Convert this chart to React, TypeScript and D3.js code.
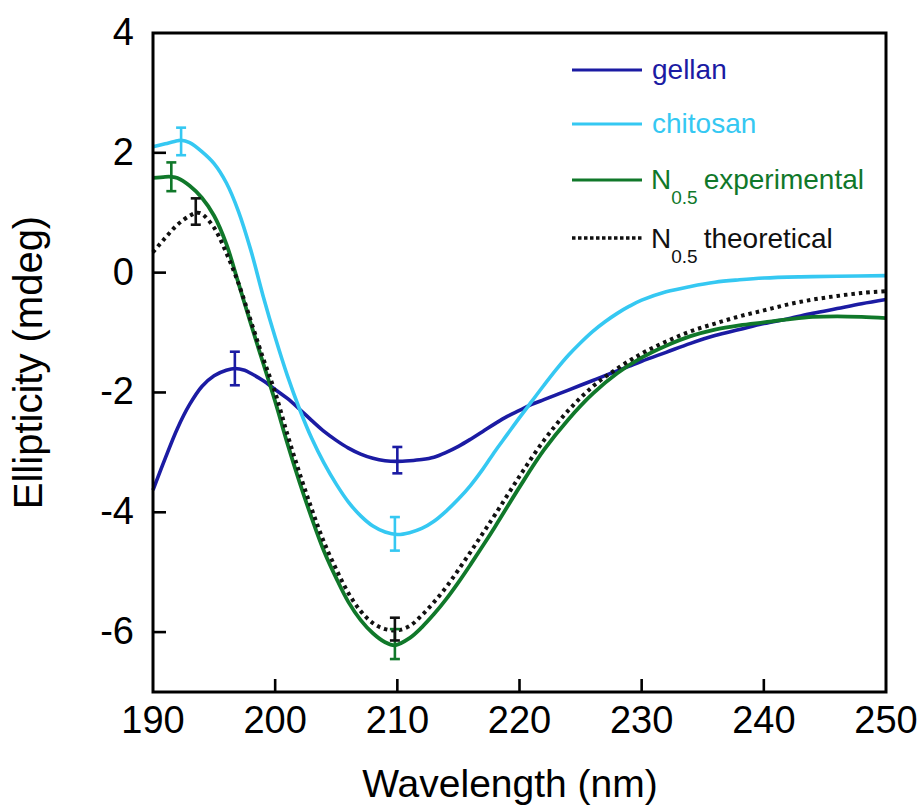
import React from "react";
import * as d3 from "d3";

const xTicks = [190, 200, 210, 220, 230, 240, 250];
const yTicks = [4, 2, 0, -2, -4, -6];

const gellanX = [190, 191, 192, 193, 194, 195, 196, 196.7, 197.5, 198, 199, 200, 201, 202, 203, 204, 205, 206, 207, 208, 209, 210, 211, 212, 213, 214, 215, 216, 217, 218, 219, 220, 221, 222, 223, 224, 225, 226, 227, 228, 229, 230, 232, 234, 236, 238, 240, 242, 244, 246, 248, 250];
const gellanY = [-3.63, -3.1, -2.6, -2.2, -1.9, -1.72, -1.63, -1.6, -1.63, -1.68, -1.8, -1.95, -2.1, -2.28, -2.47, -2.65, -2.8, -2.93, -3.03, -3.1, -3.14, -3.15, -3.14, -3.12, -3.08, -3.0, -2.9, -2.78, -2.65, -2.52, -2.4, -2.3, -2.2, -2.12, -2.04, -1.96, -1.88, -1.8, -1.72, -1.64, -1.56, -1.48, -1.33, -1.18, -1.05, -0.95, -0.85, -0.77, -0.68, -0.6, -0.52, -0.45];

const chitosanX = [190, 191, 192, 192.3, 193, 194, 195, 196, 197, 198, 199, 200, 201, 202, 203, 204, 205, 206, 207, 208, 209, 210, 211, 212, 213, 214, 215, 216, 217, 218, 219, 220, 221, 222, 223, 224, 225, 226, 227, 228, 229, 230, 232, 234, 236, 238, 240, 243, 246, 250];
const chitosanY = [2.1, 2.15, 2.2, 2.21, 2.17, 2.02, 1.82, 1.5, 1.02, 0.38, -0.38, -1.08, -1.72, -2.28, -2.77, -3.18, -3.53, -3.83, -4.06, -4.23, -4.33, -4.37, -4.34, -4.27, -4.15, -3.98, -3.78, -3.55, -3.28, -2.98, -2.7, -2.42, -2.15, -1.88, -1.62, -1.38, -1.17, -0.98, -0.82, -0.68, -0.56, -0.46, -0.32, -0.23, -0.16, -0.12, -0.09, -0.07, -0.06, -0.05];

const expX = [190, 191, 191.5, 192, 193, 194, 195, 196, 197, 198, 199, 200, 201, 202, 203, 204, 205, 206, 207, 208, 209, 209.8, 211, 212, 213, 214, 215, 216, 217, 218, 220, 222, 224, 226, 228, 230, 232, 234, 236, 238, 240, 242, 244, 246, 248, 250];
const expY = [1.58, 1.6, 1.6, 1.58, 1.45, 1.25, 0.95, 0.48, -0.18, -0.85, -1.5, -2.15, -2.85, -3.5, -4.1, -4.65, -5.1, -5.5, -5.8, -6.02, -6.17, -6.22, -6.1, -5.92, -5.7, -5.45, -5.17, -4.87, -4.56, -4.24, -3.58, -2.96, -2.45, -2.02, -1.68, -1.42, -1.22, -1.06, -0.95, -0.88, -0.83, -0.78, -0.74, -0.73, -0.74, -0.76];

const theoX = [190, 191, 192, 193, 193.6, 194, 195, 196, 197, 198, 199, 200, 201, 202, 203, 204, 205, 206, 207, 208, 209, 210, 211, 212, 213, 214, 215, 216, 217, 218, 220, 222, 224, 226, 228, 230, 232, 234, 236, 238, 240, 242, 244, 246, 248, 250];
const theoY = [0.34, 0.58, 0.8, 0.95, 1.0, 0.98, 0.75, 0.33, -0.18, -0.8, -1.42, -2.0, -2.7, -3.35, -3.95, -4.5, -4.95, -5.35, -5.65, -5.85, -5.95, -5.97, -5.9, -5.72, -5.5, -5.25, -4.96, -4.66, -4.35, -4.04, -3.4, -2.8, -2.3, -1.9, -1.6, -1.35, -1.15, -0.98, -0.85, -0.73, -0.63, -0.53, -0.45, -0.39, -0.34, -0.31];

// error bars: [x, center, half-width]
const gellanErr = [[196.7, -1.6, 0.28], [210, -3.13, 0.22]];
const chitosanErr = [[192.3, 2.19, 0.23], [209.8, -4.36, 0.28]];
const expErr = [[191.5, 1.6, 0.24], [209.8, -6.2, 0.25]];
const theoErr = [[193.5, 1.02, 0.22], [209.8, -5.95, 0.19]];

const GELLAN = "#1b1ba3";
const CHITOSAN = "#35c8f2";
const GREEN = "#10782a";
const BLACK = "#111111";

const FONT = "'Liberation Sans', Arial, sans-serif";

export default function App() {
  const W = 922, H = 807;
  const left = 153, right = 886, top = 33, bottom = 692;
  const x = d3.scaleLinear().domain([190, 250]).range([left, right]);
  const y = d3.scaleLinear().domain([-7, 4]).range([bottom, top]);

  const path = (xs: number[], ys: number[]) =>
    d3
      .line<number>()
      .x((_, i) => x(xs[i]))
      .y((_, i) => y(ys[i]))
      .curve(d3.curveCatmullRom.alpha(0.5))(xs) as string;

  const errBars = (errs: number[][], color: string) =>
    errs.map(([wx, c, h], i) => (
      <g key={i} stroke={color} strokeWidth={2.6} fill="none">
        <line x1={x(wx)} x2={x(wx)} y1={y(c + h)} y2={y(c - h)} />
        <line x1={x(wx) - 5} x2={x(wx) + 5} y1={y(c + h)} y2={y(c + h)} />
        <line x1={x(wx) - 5} x2={x(wx) + 5} y1={y(c - h)} y2={y(c - h)} />
      </g>
    ));

  const legendItems = [
    { label: "gellan", sub: "", color: GELLAN, dash: false, ly: 70, ty: 79 },
    { label: "chitosan", sub: "", color: CHITOSAN, dash: false, ly: 124, ty: 133 },
    { label: "experimental", sub: "0.5", color: GREEN, dash: false, ly: 180, ty: 189 },
    { label: "theoretical", sub: "0.5", color: BLACK, dash: true, ly: 238, ty: 248 },
  ];

  return (
    <>
      <style>{`body{margin:0;background:#fff}`}</style>
      <svg width={W} height={H} style={{ display: "block" }} fontFamily={FONT}>
        <rect width={W} height={H} fill="#fff" />
        {/* curves */}
        <path d={path(gellanX, gellanY)} fill="none" stroke={GELLAN} strokeWidth={3.6} />
        <path d={path(chitosanX, chitosanY)} fill="none" stroke={CHITOSAN} strokeWidth={3.6} />
        <path d={path(expX, expY)} fill="none" stroke={GREEN} strokeWidth={3.8} />
        <path d={path(theoX, theoY)} fill="none" stroke={BLACK} strokeWidth={4} strokeDasharray="3.5 4" />
        {errBars(gellanErr, GELLAN)}
        {errBars(chitosanErr, CHITOSAN)}
        {errBars(expErr, GREEN)}
        {errBars(theoErr, BLACK)}

        {/* frame */}
        <rect x={left} y={top} width={right - left} height={bottom - top} fill="none" stroke="#000" strokeWidth={3} />
        {/* x ticks */}
        {xTicks.map((t) => (
          <g key={t}>
            {t > 190 && t < 250 && (
              <line x1={x(t)} x2={x(t)} y1={bottom} y2={bottom - 13} stroke="#000" strokeWidth={2.6} />
            )}
            <text x={x(t)} y={bottom + 41} fontSize={38} textAnchor="middle" fill="#000">
              {t}
            </text>
          </g>
        ))}
        {/* y ticks */}
        {yTicks.map((t) => (
          <g key={t}>
            {t < 4 && (
              <line x1={left} x2={left + 13} y1={y(t)} y2={y(t)} stroke="#000" strokeWidth={2.6} />
            )}
            <text x={134} y={y(t) + 12} fontSize={38} textAnchor="end" fill="#000">
              {t}
            </text>
          </g>
        ))}
        {/* axis titles */}
        <text x={510} y={797} fontSize={39} textAnchor="middle" fill="#000">
          Wavelength (nm)
        </text>
        <text
          transform={`translate(42, ${(top + bottom) / 2}) rotate(-90)`}
          fontSize={40}
          textAnchor="middle"
          fill="#000"
        >
          Ellipticity (mdeg)
        </text>

        {/* legend */}
        {legendItems.map((it) => (
          <g key={it.label}>
            <line
              x1={572}
              x2={642}
              y1={it.ly}
              y2={it.ly}
              stroke={it.color}
              strokeWidth={it.dash ? 3.5 : 3.2}
              strokeDasharray={it.dash ? "3.5 2.5" : undefined}
            />
            {it.sub ? (
              <text y={it.ty} fontSize={28} fill={it.color}>
                <tspan x={651}>N</tspan>
                <tspan fontSize={19} dy={15}>0.5</tspan>
                <tspan dy={-15} dx={6}>{it.label}</tspan>
              </text>
            ) : (
              <text x={652} y={it.ty} fontSize={28} fill={it.color}>
                {it.label}
              </text>
            )}
          </g>
        ))}
      </svg>
    </>
  );
}
